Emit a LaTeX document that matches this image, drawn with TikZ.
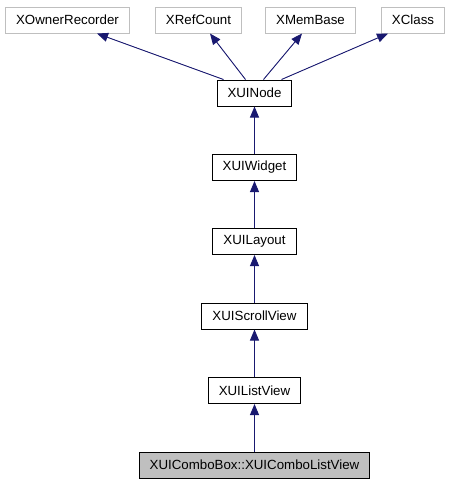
\documentclass[tikz,border=0pt]{standalone}
\usepackage{fontspec}
\setmainfont{Liberation Sans}
\usetikzlibrary{arrows.meta}
\definecolor{edgeblue}{RGB}{25,25,112}
\definecolor{graybox}{RGB}{191,191,191}
\tikzset{
  cls/.style={draw=black, line width=1pt, minimum height=26pt, inner xsep=10.5pt, inner ysep=0pt,
    font=\fontsize{13.3}{16}\selectfont, fill=white},
  ext/.style={cls, draw=graybox},
  cur/.style={cls, fill=graybox},
  inh/.style={draw=edgeblue, line width=0.9pt, -{Triangle[length=11pt,width=9pt]}, fill=edgeblue}
}
\begin{document}
\begin{tikzpicture}[x=1pt,y=-1pt]
\useasboundingbox (0,0) rectangle (451,485);
\node[ext] (own) at (67.5,20) {XOwnerRecorder};
\node[ext] (ref) at (198.5,20) {XRefCount};
\node[ext] (mem) at (310.5,20) {XMemBase};
\node[ext] (cls) at (413,20) {XClass};
\node[cls] (node) at (254.5,93) {XUINode};
\node[cls] (wid) at (254.5,167.5) {XUIWidget};
\node[cls] (lay) at (254.5,241.5) {XUILayout};
\node[cls] (scr) at (254.5,316) {XUIScrollView};
\node[cls] (lst) at (254.5,390.5) {XUIListView};
\node[cur] (cmb) at (254.5,465) {XUIComboBox::XUIComboListView};
\draw[inh] ([xshift=-31pt]node.north) -- ([xshift=29.5pt]own.south);
\draw[inh] ([xshift=-9pt]node.north) -- ([xshift=11.5pt]ref.south);
\draw[inh] ([xshift=9pt]node.north) -- ([xshift=-8.5pt]mem.south);
\draw[inh] ([xshift=27pt]node.north) -- ([xshift=-25pt]cls.south);
\draw[inh] (wid) -- (node);
\draw[inh] (lay) -- (wid);
\draw[inh] (scr) -- (lay);
\draw[inh] (lst) -- (scr);
\draw[inh] (cmb) -- (lst);
\end{tikzpicture}
\end{document}
